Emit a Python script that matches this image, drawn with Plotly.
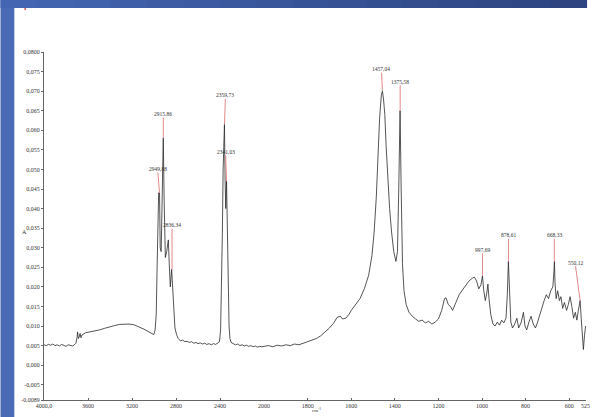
import plotly.graph_objects as go

# ---------------- data ----------------
wn_high = [4000, 3980, 3960, 3940, 3920, 3900, 3880, 3860, 3840, 3820, 3800, 3780, 3760, 3740,
           3720, 3710, 3700, 3695, 3688, 3680, 3672, 3664, 3655, 3640, 3620, 3600, 3560, 3520,
           3497, 3450, 3407, 3360, 3317, 3270, 3227, 3180, 3137, 3092, 3047, 3002,
           2990, 2980, 2972, 2965, 2958, 2950, 2944, 2935, 2925, 2916, 2908, 2897, 2885, 2870,
           2862, 2852, 2840, 2830, 2820, 2810, 2795, 2780, 2760, 2740, 2720, 2700, 2680, 2660,
           2640, 2620, 2600, 2580, 2560, 2540, 2520, 2500, 2480, 2460, 2440, 2420, 2405, 2395,
           2388, 2380, 2372, 2365, 2360, 2354, 2348, 2341, 2334, 2326, 2318, 2310, 2300, 2280,
           2260, 2240, 2220, 2200, 2180, 2160, 2140, 2120, 2100, 2080, 2060, 2040, 2020, 2000]
abs_high = [0.0052, 0.0050, 0.0053, 0.0051, 0.0054, 0.0050, 0.0052, 0.0049, 0.0053, 0.0050, 0.0048, 0.0052, 0.0050, 0.0049,
            0.0053, 0.0056, 0.0070, 0.0085, 0.0068, 0.0072, 0.0081, 0.0070, 0.0077, 0.0080, 0.0083, 0.0084, 0.0086, 0.0088,
            0.0090, 0.0094, 0.0098, 0.0101, 0.0104, 0.0105, 0.0105, 0.0103, 0.0098, 0.0092, 0.0085, 0.0078,
            0.0090, 0.0130, 0.0250, 0.0380, 0.0440, 0.0440, 0.0300, 0.0290, 0.0450, 0.0580, 0.0420, 0.0275, 0.0290, 0.0320,
            0.0260, 0.0200, 0.0245, 0.0200, 0.0130, 0.0095, 0.0078, 0.0068, 0.0062, 0.0064, 0.0060, 0.0061, 0.0058, 0.0060,
            0.0056, 0.0058, 0.0055, 0.0057, 0.0054, 0.0056, 0.0053, 0.0055, 0.0052, 0.0055, 0.0053, 0.0056, 0.0060, 0.0090,
            0.0180, 0.0320, 0.0500, 0.0600, 0.0615, 0.0470, 0.0400, 0.0470, 0.0350, 0.0200, 0.0100, 0.0068, 0.0058, 0.0055,
            0.0052, 0.0054, 0.0050, 0.0052, 0.0049, 0.0051, 0.0048, 0.0050, 0.0047, 0.0049, 0.0046, 0.0048, 0.0047, 0.0048]

wn_low = [2000, 1980, 1960, 1940, 1920, 1900, 1880, 1860, 1840, 1820, 1800, 1780, 1760, 1740, 1720, 1700,
          1680, 1665, 1650, 1640, 1625, 1610, 1600, 1580, 1560, 1540, 1520, 1505, 1495, 1485, 1477, 1470,
          1462, 1457, 1452, 1446, 1440, 1432, 1424, 1415, 1405, 1395, 1388, 1382, 1376, 1371, 1365, 1358,
          1348, 1335, 1320, 1305, 1290, 1275, 1260, 1245, 1230, 1215, 1200, 1185, 1172, 1165, 1155, 1145,
          1135, 1120, 1105, 1090, 1075, 1060, 1045, 1035, 1025, 1015, 1005, 998, 992, 985, 978, 973,
          968, 960, 950, 940, 930, 920, 910, 900, 890, 884, 879, 874, 868, 860, 850, 840,
          832, 820, 810, 803, 795, 785, 775, 765, 755, 745, 735, 725, 715, 705, 695, 685,
          675, 670, 668, 665, 660, 653, 645, 638, 630, 622, 612, 604, 596, 588, 580, 572,
          565, 558, 550, 545, 540, 535, 530, 525]
abs_low = [0.0048, 0.0050, 0.0047, 0.0051, 0.0049, 0.0052, 0.0050, 0.0054, 0.0052, 0.0056, 0.0058, 0.0062, 0.0068, 0.0075, 0.0085, 0.0095,
           0.0108, 0.0122, 0.0125, 0.0118, 0.0120, 0.0130, 0.0140, 0.0155, 0.0170, 0.0195, 0.0230, 0.0280, 0.0340, 0.0430, 0.0540, 0.0630,
           0.0690, 0.0700, 0.0680, 0.0640, 0.0560, 0.0470, 0.0400, 0.0340, 0.0290, 0.0265, 0.0290, 0.0450, 0.0650, 0.0450, 0.0260, 0.0190,
           0.0155, 0.0135, 0.0125, 0.0118, 0.0112, 0.0115, 0.0108, 0.0112, 0.0105, 0.0110, 0.0118, 0.0140, 0.0170, 0.0172, 0.0155, 0.0150,
           0.0140, 0.0160, 0.0180, 0.0192, 0.0205, 0.0215, 0.0222, 0.0225, 0.0215, 0.0195, 0.0205, 0.0228, 0.0190, 0.0165, 0.0185, 0.0207,
           0.0170, 0.0130, 0.0105, 0.0100, 0.0110, 0.0102, 0.0115, 0.0108, 0.0120, 0.0180, 0.0265, 0.0170, 0.0110, 0.0095, 0.0105, 0.0120,
           0.0095, 0.0110, 0.0135, 0.0100, 0.0090, 0.0110, 0.0125, 0.0105, 0.0095, 0.0110, 0.0130, 0.0145, 0.0165, 0.0180, 0.0170, 0.0190,
           0.0200, 0.0240, 0.0265, 0.0210, 0.0170, 0.0190, 0.0165, 0.0175, 0.0145, 0.0160, 0.0140, 0.0155, 0.0175, 0.0150, 0.0120, 0.0135,
           0.0115, 0.0140, 0.0165, 0.0120, 0.0060, 0.0040, 0.0075, 0.0100]

peak_wn = [2949.88, 2915.86, 2836.34, 2359.73, 2341.03, 1457.04, 1375.58, 997.69, 878.61, 668.33, 550.12]
peak_abs = [0.0440, 0.0580, 0.0245, 0.0615, 0.0470, 0.0700, 0.0650, 0.0228, 0.0265, 0.0265, 0.0165]
peak_text = ["2949,88", "2915,86", "2836,34", "2359,73", "2341,03", "1457,04", "1375,58",
             "997,69", "878,61", "668,33", "550,12"]

ytick_vals = [0.08, 0.075, 0.07, 0.065, 0.06, 0.055, 0.05, 0.045, 0.04, 0.035, 0.03, 0.025,
              0.02, 0.015, 0.01, 0.005, 0.0, -0.005, -0.0089]
ytick_text = ["0,0800", "0,075", "0,070", "0,065", "0,060", "0,055", "0,050", "0,045", "0,040",
              "0,035", "0,030", "0,025", "0,020", "0,015", "0,010", "0,005", "0,000", "-0,005", "-0,0089"]
xtick_high = [4000, 3600, 3200, 2800, 2400, 2000]
xtick_high_text = ["4000,0", "3600", "3200", "2800", "2400", "2000"]
xtick_low = [1800, 1600, 1400, 1200, 1000, 800, 600, 525]
xtick_low_text = ["1800", "1600", "1400", "1200", "1000", "800", "600", "525"]

# ---------------- layout geometry ----------------
W, H = 592, 417
ML, MR, MT, MB = 44, 0, 52, 17
PW, PH = W - ML - MR, H - MT - MB
def px(x):
    return (x - ML) / PW
def py(y):
    return (H - MB - y) / PH

split = px(266.5)
FONT = "Liberation Serif"
tick_font = dict(family=FONT, size=6, color="#333333")

fig = go.Figure()
fig.add_trace(go.Scatter(x=wn_high, y=abs_high, mode="lines", xaxis="x", yaxis="y",
                         line=dict(color="#2a2a2a", width=0.8), showlegend=False, hoverinfo="skip"))
fig.add_trace(go.Scatter(x=wn_low, y=abs_low, mode="lines", xaxis="x2", yaxis="y",
                         line=dict(color="#2a2a2a", width=0.8), showlegend=False, hoverinfo="skip"))

# label offsets in pixels (label centre relative to peak tip)
offsets = [(-2, -24), (0, -24), (0, -44), (1, -29), (-1, -29), (-1, -22), (0, -29),
           (0, -26), (0, -26), (0, -26), (-5, -38)]
annotations = []
for w, a, t, (ox, oy) in zip(peak_wn, peak_abs, peak_text, offsets):
    annotations.append(dict(
        x=w, y=a, xref="x" if w >= 2000 else "x2", yref="y",
        text=t, showarrow=True, arrowhead=0, arrowwidth=0.9, arrowcolor="#e07a7a",
        ax=ox, ay=oy, standoff=0, startstandoff=0,
        font=dict(family=FONT, size=5.5, color="#333333"), borderpad=0))

annotations.append(dict(x=px(20), y=py(232), xref="paper", yref="paper", text="A",
                        showarrow=False, font=dict(family=FONT, size=6, color="#333333")))
annotations.append(dict(x=px(320), y=py(414.5), xref="paper", yref="paper", text="cm<sup>-1</sup>",
                        showarrow=False, font=dict(family=FONT, size=5, color="#333333")))

shapes = []
# slide background strips (left and top)
shapes.append(dict(type="rect", xref="paper", yref="paper", x0=px(0), x1=px(14), y0=py(H), y1=py(0),
                   fillcolor="#4a6ab6", line=dict(width=0), layer="below"))
n = 16
c0 = (0x44, 0x66, 0xb2)
c1 = (0x2d, 0x44, 0x80)
for i in range(n):
    f = i / (n - 1)
    col = "rgb(%d,%d,%d)" % tuple(int(c0[k] + (c1[k] - c0[k]) * f) for k in range(3))
    shapes.append(dict(type="rect", xref="paper", yref="paper",
                       x0=px(W * i / n), x1=px(W * (i + 1) / n) + 0.002, y0=py(8), y1=py(0),
                       fillcolor=col, line=dict(width=0), layer="below"))
# small red mark near top-left
shapes.append(dict(type="circle", xref="paper", yref="paper", x0=px(24), x1=px(26), y0=py(10), y1=py(8),
                   fillcolor="#d05050", line=dict(width=0)))

axis_common = dict(showgrid=False, zeroline=False, showline=True, linecolor="#666666", linewidth=1,
                   ticks="inside", ticklen=2, tickcolor="#666666", tickfont=tick_font)

fig.update_layout(
    width=W, height=H,
    margin=dict(l=ML, r=MR, t=MT, b=MB),
    paper_bgcolor="white", plot_bgcolor="rgba(0,0,0,0)",
    xaxis=dict(domain=[0, split], range=[4000, 2000], anchor="y",
               tickmode="array", tickvals=xtick_high, ticktext=xtick_high_text, **axis_common),
    xaxis2=dict(domain=[split, 1], range=[2000, 523], anchor="y",
                tickmode="array", tickvals=xtick_low, ticktext=xtick_low_text, **axis_common),
    yaxis=dict(range=[-0.0089, 0.08], anchor="x", showgrid=False, zeroline=False, showline=True,
               linecolor="#666666", linewidth=1, ticks="outside", ticklen=2, tickcolor="#666666",
               tickmode="array", tickvals=ytick_vals, ticktext=ytick_text, tickfont=tick_font),
    annotations=annotations,
    shapes=shapes,
)

fig.write_html("out.html", config={"displayModeBar": False},
               post_script="document.body.style.margin='0';document.body.style.overflow='hidden';")
